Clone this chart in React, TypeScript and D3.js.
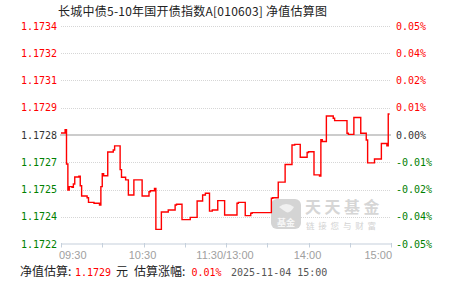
import React from "react";
import * as d3 from "d3";

const title = "长城中债5-10年国开债指数A[010603] 净值估算图";

const times = [
  "09:30", "09:33", "09:34", "09:35", "09:36", "09:38", "09:39", "09:40", "09:43", "09:44",
  "09:45", "09:49", "09:50", "09:54", "09:58", "09:59", "10:00", "10:01", "10:04", "10:08",
  "10:09", "10:13", "10:14", "10:17", "10:19", "10:23", "10:29", "10:34", "10:35", "10:38",
  "10:39", "10:43", "10:48", "10:53", "10:54", "10:58", "11:04", "11:09", "11:13", "11:15",
  "11:18", "11:20", "11:24", "11:29", "13:08", "13:09", "13:14", "13:18", "13:19", "13:33",
  "13:34", "13:38", "13:43", "13:48", "13:50", "13:54", "13:59", "14:00", "14:04", "14:08",
  "14:09", "14:10", "14:13", "14:18", "14:19", "14:28", "14:29", "14:33", "14:38", "14:42",
  "14:43", "14:48", "14:53", "14:57", "14:58", "14:59",
];

// estimated change in %
const pctValues = [
  0.0009, 0.0024, -0.0133, -0.0252, -0.0237, -0.024, -0.0225, -0.0193, -0.0189, -0.0233,
  -0.028, -0.0288, -0.0309, -0.0313, -0.0321, -0.0237, -0.0178, -0.0187, -0.0078, -0.0069,
  -0.005, -0.0159, -0.0194, -0.0206, -0.0275, -0.0206, -0.028, -0.026, -0.0256, -0.0245,
  -0.0433, -0.0353, -0.0344, -0.0321, -0.0318, -0.0388, -0.0378, -0.0303, -0.0275, -0.0267,
  -0.0349, -0.0344, -0.0301, -0.0367, -0.0313, -0.0309, -0.037, -0.0359, -0.0356, -0.029,
  -0.0288, -0.0216, -0.0135, -0.0046, -0.0043, -0.0102, -0.008, -0.0077, -0.0183, -0.0188,
  -0.0021, -0.003, 0.0087, 0.0077, 0.0066, 0.0008, 0.0003, 0.008, 0.0008, -0.0023,
  -0.0128, -0.011, -0.0039, -0.005, 0.0096, 0.0096,
];

const yTickPct = [0.05, 0.0375, 0.025, 0.0125, 0, -0.0125, -0.025, -0.0375, -0.05];
const leftLabels = ["1.1734", "1.1732", "1.1731", "1.1729", "1.1728", "1.1727", "1.1725", "1.1724", "1.1722"];
const rightLabels = ["0.05%", "0.04%", "0.02%", "0.01%", "0.00%", "-0.01%", "-0.02%", "-0.04%", "-0.05%"];

const xTickMinutes = [0, 30, 60, 90, 120, 150, 180, 210, 240];
const xLabelMinutes = [0, 60, 120, 180, 240];
const xLabels = ["09:30", "10:30", "11:30/13:00", "14:00", "15:00"];

const estNav = "1.1729";
const estPct = "0.01%";
const estTime = "2025-11-04 15:00";

function toIdx(t: string): number {
  const [h, m] = t.split(":").map(Number);
  const mins = h * 60 + m;
  return mins <= 690 ? mins - 570 : 120 + (mins - 780);
}

const W = 451;
const H = 281;
const MONO = "'DejaVu Sans Mono', 'Liberation Mono', monospace";
const CJK = "'Noto Sans CJK SC', sans-serif";

export default function App() {
  const x = d3.scaleLinear().domain([0, 240]).range([61, 391]);
  const y = d3.scaleLinear().domain([-0.05, 0.05]).range([244, 26]);

  const data = times.map((t, i) => ({ i: toIdx(t), v: pctValues[i] }));
  const line = d3
    .line<{ i: number; v: number }>()
    .x((d) => x(d.i))
    .y((d) => y(d.v))
    .curve(d3.curveStepAfter);

  const colorFor = (p: number) => (p > 0 ? "#ff0000" : p < 0 ? "#008000" : "#333333");

  return (
    <div style={{ position: "absolute", left: 0, top: 0 }}>
      <svg width={W} height={H} style={{ display: "block", background: "#fff" }}>
        {/* title */}
        <text x={58} y={16} fontFamily={CJK} fontSize={12} fill="#222" textLength={269} lengthAdjust="spacing">
          {title}
        </text>

        {/* grid */}
        {yTickPct.map((p, k) => {
          if (p === 0 || k === yTickPct.length - 1) return null;
          return (
            <line
              key={"g" + k}
              x1={x(0)}
              x2={x(240)}
              y1={Math.round(y(p)) + 0.5}
              y2={Math.round(y(p)) + 0.5}
              stroke="#d6d6d6"
              strokeDasharray="1,1"
            />
          );
        })}

        {/* watermark */}
        <g>
          <rect x={271} y={199} width={30} height={30} rx={6} fill="#d4d4d4" />
          <path d="M279,207 Q286,201 294,207 Q290,214 286,212 Q283,210 279,207 Z" fill="#f0f0f0" />
          <text x={286} y={226} textAnchor="middle" fontFamily={CJK} fontSize={9} fontWeight="bold" fill="#f7f7f7">
            基金
          </text>
          <text x={305} y={213} fontFamily={CJK} fontSize={16} fontWeight="bold" fill="#d6d6d6" letterSpacing={3.5}>
            天天基金
          </text>
          <text x={306} y={229} fontFamily={CJK} fontSize={8.5} fill="#d2d2d2" letterSpacing={3.8}>
            链接您与财富
          </text>
        </g>

        {/* zero line */}
        <line x1={x(0) - 1} x2={x(240)} y1={y(0)} y2={y(0)} stroke="#999" strokeWidth={1.2} />

        {/* x axis */}
        <line x1={x(0)} x2={x(240)} y1={244} y2={244} stroke="#c5d0dc" strokeWidth={1.2} />
        {xTickMinutes.map((m) => (
          <line key={"t" + m} x1={Math.round(x(m)) + 0.5} x2={Math.round(x(m)) + 0.5} y1={243} y2={247.5} stroke="#c5d0dc" />
        ))}
        {xLabelMinutes.map((m, k) => (
          <text
            key={"xl" + m}
            x={k === 0 ? x(m) - 2 : k === xLabels.length - 1 ? x(m) + 1 : x(m) - 1}
            y={259}
            textAnchor={k === 0 ? "start" : k === xLabels.length - 1 ? "end" : "middle"}
            fontFamily="'Liberation Sans', Arial, sans-serif"
            fontSize={11}
            fill="#a0a0a0"
          >
            {xLabels[k]}
          </text>
        ))}

        {/* y labels */}
        {yTickPct.map((p, k) => (
          <text key={"yl" + k} x={57} y={y(p) + 3.5} textAnchor="end" fontFamily={MONO} fontSize={10} fill={colorFor(p)}>
            {leftLabels[k]}
          </text>
        ))}
        {yTickPct.map((p, k) => (
          <text key={"yr" + k} x={396} y={y(p) + 3.5} textAnchor="start" fontFamily={MONO} fontSize={10} fill={colorFor(p)}>
            {rightLabels[k]}
          </text>
        ))}

        {/* series */}
        <path d={line(data) || ""} fill="none" stroke="#ff0000" strokeWidth={1.4} />

        {/* footer */}
        <text y={276} fontSize={12} fill="#222">
          <tspan x={20} fontFamily={CJK}>净值估算:</tspan>
          <tspan x={75} fontFamily={MONO} fontSize={10} fill="#ff0000">{estNav}</tspan>
          <tspan x={116} fontFamily={CJK}>元</tspan>
          <tspan x={134} fontFamily={CJK}>估算涨幅:</tspan>
          <tspan x={191.5} fontFamily={MONO} fontSize={10} fill="#ff0000">{estPct}</tspan>
          <tspan x={231} fontFamily={MONO} fontSize={10} fill="#555">{estTime}</tspan>
        </text>
      </svg>
    </div>
  );
}
